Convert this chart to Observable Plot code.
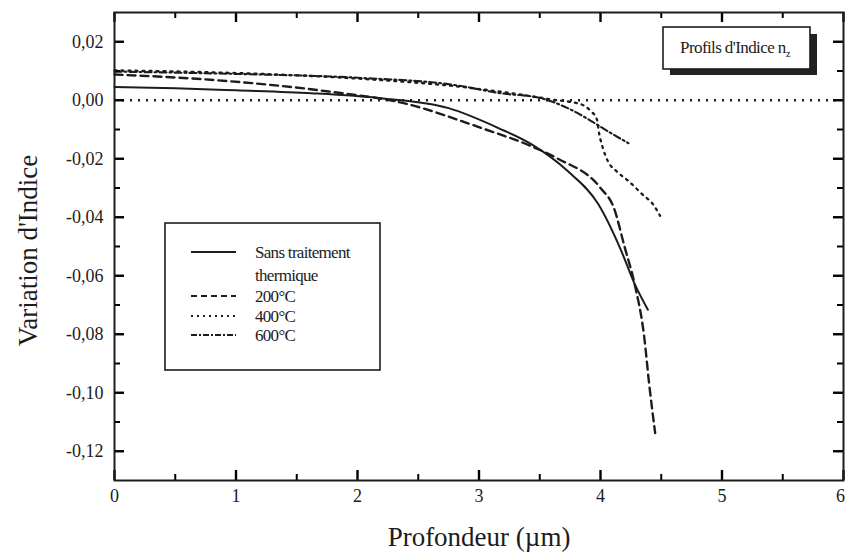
<!DOCTYPE html>
<html><head><meta charset="utf-8">
<script src="https://cdn.jsdelivr.net/npm/d3@7"></script>
<script src="https://cdn.jsdelivr.net/npm/@observablehq/plot@0.6"></script>
<style>body{margin:0;background:#fff} svg{display:block}</style>
</head><body><div id="chart"></div>
<script>
// ---- data ----
const depthSans = [0, 0.5, 1.0, 1.62, 2.19, 2.75, 3.16, 3.43, 3.73, 3.98, 4.17, 4.28, 4.39];
const indexSans = [0.0045, 0.0041, 0.0034, 0.0024, 0.0007, -0.0027, -0.0095, -0.015, -0.0242, -0.0354, -0.0514, -0.0627, -0.0716];

const depth200 = [0, 0.79, 1.76, 2.38, 3.02, 3.43, 3.65, 4.0, 4.11, 4.2, 4.28, 4.36, 4.40, 4.45];
const index200 = [0.0088, 0.0070, 0.0030, -0.0010, -0.0095, -0.0157, -0.0200, -0.0300, -0.0368, -0.0504, -0.0627, -0.0810, -0.0968, -0.1138];

const depth400 = [0, 1.0, 2.0, 2.8, 3.3, 3.59, 3.84, 3.92, 3.97, 3.99, 4.02, 4.06, 4.13, 4.23, 4.34, 4.44, 4.49];
const index400 = [0.0102, 0.0093, 0.0074, 0.0048, 0.0022, 0.0003, -0.0014, -0.0037, -0.0065, -0.0116, -0.0164, -0.0208, -0.0242, -0.0276, -0.0320, -0.0360, -0.0395];

const depth600 = [0, 1.0, 2.0, 2.8, 3.18, 3.51, 3.73, 3.9, 4.06, 4.23];
const index600 = [0.0098, 0.0090, 0.0077, 0.0052, 0.0024, 0.0007, -0.0027, -0.0065, -0.0106, -0.0147];

const zeroLine = [0];

const legendLabels = ["Sans traitement", "thermique", "200°C", "400°C", "600°C"];
const xTicks = [0, 1, 2, 3, 4, 5, 6];
const xMinor = [0.5, 1.5, 2.5, 3.5, 4.5, 5.5];
const yTicks = [-0.12, -0.10, -0.08, -0.06, -0.04, -0.02, 0.00, 0.02];
const yMinor = [-0.11, -0.09, -0.07, -0.05, -0.03, -0.01, 0.01];

const ink = "#1c1c1c";
const serif = "'Liberation Serif', 'DejaVu Serif', serif";
const styles = {
  sans: {dash: null, w: 2},
  s200: {dash: "8,5", w: 2.4},
  s400: {dash: "2,5", w: 2.3},
  s600: {dash: "7,3,2,3", w: 2.1}
};
const mk = (d, v) => d.map((x, i) => ({depth: x, index: v[i]}));
const yFmt = d => d.toFixed(2).replace(".", ",");

const W = 846, H = 558, ML = 114, MR = 3, MT = 12, MB = 78;
const FW = W - ML - MR, FH = H - MT - MB;
const MAJ = 10, MIN = 6;
const tk = {stroke: "#000", strokeWidth: 2.4};
const tkm = {stroke: "#000", strokeWidth: 2};

const plot = Plot.plot({
  width: W, height: H,
  marginLeft: ML, marginRight: MR, marginTop: MT, marginBottom: MB,
  x: {domain: [0, 6]},
  y: {domain: [-0.13, 0.03]},
  style: {fontFamily: serif, fontSize: "18px", background: "#fff", color: ink},
  marks: [
    Plot.ruleY(zeroLine, {stroke: ink, strokeWidth: 2.3, strokeDasharray: "2,6"}),
    Plot.line(mk(depthSans, indexSans), {x: "depth", y: "index", stroke: ink, strokeWidth: styles.sans.w, curve: "monotone-x"}),
    Plot.line(mk(depth200, index200), {x: "depth", y: "index", stroke: ink, strokeWidth: styles.s200.w, strokeDasharray: styles.s200.dash, curve: "monotone-x"}),
    Plot.line(mk(depth400, index400), {x: "depth", y: "index", stroke: ink, strokeWidth: styles.s400.w, strokeDasharray: styles.s400.dash, curve: "monotone-x"}),
    Plot.line(mk(depth600, index600), {x: "depth", y: "index", stroke: ink, strokeWidth: styles.s600.w, strokeDasharray: styles.s600.dash, curve: "monotone-x"}),
    // tick labels
    Plot.axisY(yTicks, {anchor: "left", tickSize: 0, tickPadding: 11, tickFormat: yFmt, label: null, fontSize: 18}),
    Plot.axisX(xTicks.slice(0, -1), {anchor: "bottom", tickSize: 0, tickPadding: 9, tickFormat: d => String(d), label: null, fontSize: 18}),
    Plot.axisX(xTicks.slice(-1), {anchor: "bottom", tickSize: 0, tickPadding: 9, dx: -3, tickFormat: d => String(d), label: null, fontSize: 18}),
    // inward ticks on all four sides (rules inset to a short length)
    Plot.ruleX(xTicks, {...tk, insetTop: FH - MAJ}),
    Plot.ruleX(xMinor, {...tkm, insetTop: FH - MIN}),
    Plot.ruleX(xTicks, {...tk, insetBottom: FH - MAJ}),
    Plot.ruleX(xMinor, {...tkm, insetBottom: FH - MIN}),
    Plot.ruleY(yTicks, {...tk, insetRight: FW - MAJ}),
    Plot.ruleY(yMinor, {...tkm, insetRight: FW - MIN}),
    Plot.ruleY(yTicks, {...tk, insetLeft: FW - MAJ}),
    Plot.ruleY(yMinor, {...tkm, insetLeft: FW - MIN}),
    Plot.frame({stroke: ink, strokeWidth: 2}),
    // axis titles
    Plot.text(["Variation d'Indice"], {frameAnchor: "left", textAnchor: "middle", lineAnchor: "middle", rotate: -90, dx: -86, dy: 4, fontSize: 27, fill: ink}),
    Plot.text(["Profondeur (µm)"], {frameAnchor: "bottom", textAnchor: "middle", lineAnchor: "middle", dy: 57, fontSize: 27, fill: ink})
  ]
});
document.getElementById("chart").appendChild(plot);

const svg = d3.select(plot);

// ---- annotations: legend and title box ----
const lg = svg.append("g").attr("font-family", serif).attr("fill", ink).attr("text-anchor", "start");
lg.append("rect").attr("x", 165).attr("y", 223).attr("width", 215).attr("height", 147)
  .attr("fill", "#fff").attr("stroke", ink).attr("stroke-width", 1.6);
const sampleY = [252, null, 296, 316, 335];
const sampleStyle = [styles.sans, null, {dash: "6,4", w: 2}, {dash: "2,4", w: 2}, {dash: "6,2,2,2", w: 2}];
const textY = [252, 275, 296, 316, 335];
legendLabels.forEach((t, i) => {
  if (sampleY[i] != null) {
    lg.append("line").attr("x1", 191).attr("x2", 236).attr("y1", sampleY[i]).attr("y2", sampleY[i])
      .attr("stroke", ink).attr("stroke-width", sampleStyle[i].w)
      .attr("stroke-dasharray", sampleStyle[i].dash);
  }
  lg.append("text").attr("x", 255).attr("y", textY[i]).attr("dy", "0.35em")
    .attr("font-size", 17).attr("letter-spacing", "-0.7").text(t);
});

const tb = svg.append("g").attr("font-family", serif);
tb.append("rect").attr("x", 670).attr("y", 34).attr("width", 147).attr("height", 41).attr("fill", "#222");
tb.append("rect").attr("x", 663).attr("y", 27).attr("width", 147).attr("height", 42)
  .attr("fill", "#fff").attr("stroke", ink).attr("stroke-width", 1.6);
const tt = tb.append("text").attr("x", 735).attr("y", 47).attr("dy", "0.35em").attr("text-anchor", "middle")
  .attr("font-size", 17).attr("letter-spacing", "-0.6").attr("fill", ink);
tt.append("tspan").text("Profils d'Indice n");
tt.append("tspan").attr("font-size", 11).attr("dy", "4").text("z");
</script>
</body></html>
